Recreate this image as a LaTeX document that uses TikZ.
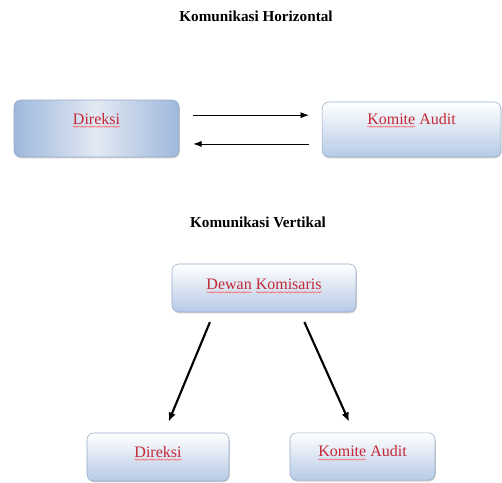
\documentclass[tikz,border=0pt]{standalone}
\usepackage{fontspec}
\setmainfont{Liberation Serif}
\usepackage{xcolor}
\usetikzlibrary{arrows.meta,positioning,calc,shadows,decorations.pathmorphing}
\definecolor{boxedge}{RGB}{150,170,200}
\definecolor{boxblue}{RGB}{182,202,230}
\definecolor{boxdeep}{RGB}{158,184,220}
\definecolor{boxmid}{RGB}{226,233,243}
\definecolor{wordred}{RGB}{196,40,52}
\newcommand{\boxfont}{\fontsize{12}{14}\selectfont}
\newlength{\wDir}
\newlength{\wKom}
\newlength{\wKomAud}
\newlength{\wDew}
\newlength{\wKms}
\newlength{\wDewKms}
\tikzset{
	heading/.style={font=\fontsize{11.4}{13}\selectfont\bfseries, inner sep=0pt},
	unit/.style={draw=boxedge, rounded corners=5pt, inner xsep=0pt, inner ysep=0pt, font=\boxfont, text=wordred,
		top color=white, bottom color=boxblue, drop shadow={shadow xshift=0.6pt, shadow yshift=-1pt, opacity=0.35}},
	deepunit/.style={unit, left color=boxdeep, right color=boxdeep, middle color=boxmid},
	squiggle/.style={draw=red!65, line width=0.35pt, decorate, decoration={snake, amplitude=0.5pt, segment length=2pt}},
	flow/.style={-{Latex[length=2.2mm, width=1.6mm]}, line width=0.6pt},
	link/.style={-{Latex[length=2.4mm, width=2mm]}, line width=1.6pt}
}

\begin{document}
\settowidth{\wDir}{\boxfont Direksi}%
\settowidth{\wKom}{\boxfont Komite}%
\settowidth{\wKomAud}{\boxfont Komite Audit}%
\settowidth{\wDew}{\boxfont Dewan}%
\settowidth{\wKms}{\boxfont Komisaris}%
\settowidth{\wDewKms}{\boxfont Dewan Komisaris}%
\begin{tikzpicture}[x=0.75pt, y=-0.75pt]
	\useasboundingbox (0,0) rectangle (502,482);
	% horizontal
	\node[heading] (hzT) at (256,16) {Komunikasi Horizontal};
	\node[deepunit, minimum width=123.75pt, text height=18pt, text depth=24.75pt] (dirH) at (96.5,128.5) {Direksi};
	\node[unit, minimum width=134pt, text height=16.5pt, text depth=24.75pt] (komH) at (411.5,129.5) {Komite Audit};
	\path[squiggle] ([xshift=-0.5\wDir, yshift=-2pt]dirH.base) -- ++(\wDir,0pt);
	\path[squiggle] ([xshift=-0.5\wKomAud, yshift=-2pt]komH.base) -- ++(\wKom,0pt);
	\coordinate (hzA) at ([yshift=10pt]dirH.east);
	\coordinate (hzB) at ([yshift=-11.6pt]dirH.east);
	\draw[flow, shorten <=10.5pt, shorten >=9.75pt] (hzA) -- (hzA -| komH.west);
	\draw[flow, shorten <=9.75pt, shorten >=10.5pt] (hzB -| komH.west) -- (hzB);
	% vertical
	\node[heading] (vtT) at (258,222) {Komunikasi Vertikal};
	\node[unit, minimum width=138pt, text height=19.25pt, text depth=16.75pt] (dewan) at (264,288) {Dewan Komisaris};
	\node[unit, minimum width=106.5pt, text height=18pt, text depth=18pt] (dirV) at (158,457) {Direksi};
	\node[unit, minimum width=108.75pt, text height=18pt, text depth=17.5pt] (komV) at (362.5,456.5) {Komite Audit};
	\path[squiggle] ([xshift=-0.5\wDewKms, yshift=-2pt]dewan.base) -- ++(\wDew,0pt);
	\path[squiggle] ([xshift=0.5\wDewKms-\wKms, yshift=-2pt]dewan.base) -- ++(\wKms,0pt);
	\path[squiggle] ([xshift=-0.5\wDir, yshift=-2pt]dirV.base) -- ++(\wDir,0pt);
	\path[squiggle] ([xshift=-0.5\wKomAud, yshift=-2pt]komV.base) -- ++(\wKom,0pt);
	\draw[link, shorten <=8pt, shorten >=9pt] ([xshift=-37.5pt]dewan.south) -- ([xshift=4.5pt]dirV.north);
	\draw[link, shorten <=8pt, shorten >=9pt] ([xshift=27pt]dewan.south) -- ([xshift=-6.4pt]komV.north);
\end{tikzpicture}
\end{document}
